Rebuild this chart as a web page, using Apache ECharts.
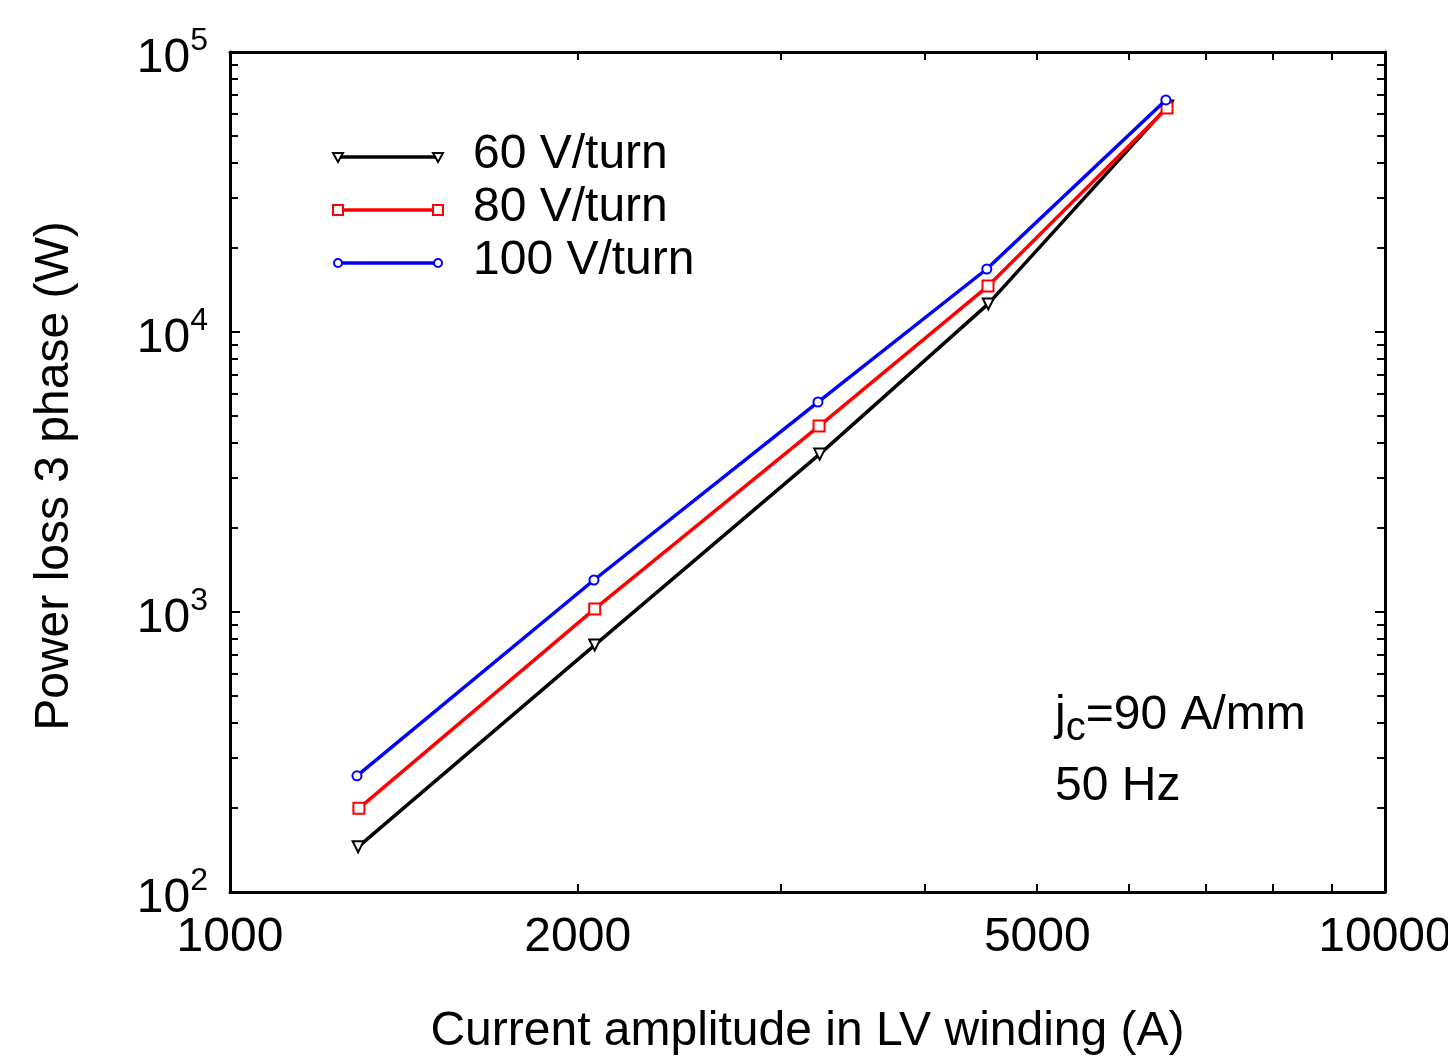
<!DOCTYPE html>
<html>
<head>
<meta charset="utf-8">
<script src="https://cdn.jsdelivr.net/npm/echarts@6/dist/echarts.min.js"></script>
<style>
  html, body { margin: 0; padding: 0; background: #fff; }
  #chart { width: 1448px; height: 1061px; }
</style>
</head>
<body>
<div id="chart"></div>
<script>
// values
const seriesNames = ['60 V/turn', '80 V/turn', '100 V/turn'];
const current60 = [1291, 2069, 3240, 4534, 6485];
const loss60 = [145, 762, 3664, 12600, 64100];
const current80 = [1293, 2069, 3236, 4532, 6476];
const loss80 = [199, 1026, 4613, 14590, 63100];
const current100 = [1288, 2066, 3229, 4521, 6461];
const loss100 = [260, 1301, 5623, 16788, 67400];

const xTickLabels = [1000, 2000, 5000, 10000];
const xMinorTicks = [2000, 3000, 4000, 5000, 6000, 7000, 8000, 9000];
const yMinorTicks = [200, 300, 400, 500, 600, 700, 800, 900,
  2000, 3000, 4000, 5000, 6000, 7000, 8000, 9000,
  20000, 30000, 40000, 50000, 60000, 70000, 80000, 90000];

const font = "'Liberation Sans', Arial, sans-serif";
const fs = 48;
const colors = ['#000000', '#ff0000', '#0000ff'];
const symbols = ['emptyTriangle', 'emptyRect', 'emptyCircle'];
const symbolSizes = [11, 11, 9];
const symbolRotates = [180, 0, 0];

function pairs(xs, ys) {
  return xs.map((x, i) => [x, ys[i]]);
}
const allData = [pairs(current60, loss60), pairs(current80, loss80), pairs(current100, loss100)];

const axisLine = {lineStyle: {color: '#000', width: 3}};
const chart = echarts.init(document.getElementById('chart'));

chart.setOption({
  backgroundColor: '#fff',
  animation: false,
  grid: {left: 230, right: 63, top: 52, bottom: 169},
  xAxis: [
    {
      type: 'log', min: 1000, max: 10000, position: 'bottom',
      axisLine: axisLine,
      axisTick: {show: false},
      axisLabel: {show: false},
      splitLine: {show: false}
    },
    {
      type: 'log', min: 1000, max: 10000, position: 'top',
      axisLine: axisLine,
      axisTick: {show: false},
      axisLabel: {show: false},
      splitLine: {show: false}
    }
  ],
  yAxis: [
    {
      type: 'log', min: 100, max: 100000, position: 'left',
      axisLine: axisLine,
      axisTick: {inside: true, length: 10, lineStyle: {width: 2, color: '#000'}},
      axisLabel: {
        margin: 22,
        formatter: function (v) {
          return '{b|10}{s|' + Math.round(Math.log10(v)) + '}';
        },
        rich: {
          b: {fontFamily: font, fontSize: fs, color: '#000', padding: [14, 0, 0, 0]},
          s: {fontFamily: font, fontSize: 32, color: '#000', padding: [0, 0, 22, 0]}
        }
      },
      splitLine: {show: false}
    },
    {
      type: 'log', min: 100, max: 100000, position: 'right',
      axisLine: axisLine,
      axisTick: {inside: true, length: 10, lineStyle: {width: 2, color: '#000'}},
      axisLabel: {show: false},
      splitLine: {show: false}
    }
  ],
  series: allData.map((d, i) => ({
    name: seriesNames[i],
    type: 'line',
    data: d,
    symbol: symbols[i],
    symbolSize: symbolSizes[i],
    symbolRotate: symbolRotates[i],
    lineStyle: {color: colors[i], width: 3.5},
    itemStyle: {color: colors[i], borderWidth: 2},
    z: 2 + i
  }))
});

// ticks, x labels, legend and notes placed through the axes' own scale
function decorate() {
  const g = [];
  const xPix = v => chart.convertToPixel({xAxisIndex: 0}, v);
  const yPix = v => chart.convertToPixel({yAxisIndex: 0}, v);
  const left = xPix(1000), right = xPix(10000);
  const bottom = yPix(100), top = yPix(100000);
  const tickStyle = {stroke: '#000', lineWidth: 2};
  const tl = 8;

  xMinorTicks.forEach(v => {
    const x = Math.round(xPix(v));
    g.push({type: 'line', shape: {x1: x, y1: bottom, x2: x, y2: bottom - tl}, style: tickStyle, silent: true});
    g.push({type: 'line', shape: {x1: x, y1: top, x2: x, y2: top + tl}, style: tickStyle, silent: true});
  });
  yMinorTicks.forEach(v => {
    const y = Math.round(yPix(v));
    g.push({type: 'line', shape: {x1: left, y1: y, x2: left + tl, y2: y}, style: tickStyle, silent: true});
    g.push({type: 'line', shape: {x1: right, y1: y, x2: right - tl, y2: y}, style: tickStyle, silent: true});
  });

  xTickLabels.forEach(v => {
    g.push({
      type: 'text', x: xPix(v), y: bottom + 22, silent: true,
      style: {text: String(v), font: fs + 'px ' + font, fill: '#000', align: 'center', verticalAlign: 'top'}
    });
  });

  // axis names
  g.push({
    type: 'text', x: (left + right) / 2, y: 1032, silent: true,
    style: {text: 'Current amplitude in LV winding (A)', font: fs + 'px ' + font, fill: '#000', align: 'center', verticalAlign: 'middle'}
  });
  g.push({
    type: 'text', x: 55, y: 476, rotation: Math.PI / 2, silent: true,
    style: {text: 'Power loss 3 phase (W)', font: fs + 'px ' + font, fill: '#000', align: 'center', verticalAlign: 'middle'}
  });

  // legend with a marker at each end of the sample line
  const legendY = [157, 210, 263];
  seriesNames.forEach((name, i) => {
    const y = legendY[i];
    g.push({type: 'line', shape: {x1: 338, y1: y, x2: 438, y2: y}, style: {stroke: colors[i], lineWidth: 3.5}, silent: true});
    [338, 438].forEach(x => {
      if (i === 0) {
        g.push({type: 'polygon', shape: {points: [[x - 5, y - 4], [x + 5, y - 4], [x, y + 5]]},
          style: {fill: '#fff', stroke: colors[i], lineWidth: 2}, silent: true});
      } else if (i === 1) {
        g.push({type: 'rect', shape: {x: x - 5, y: y - 5, width: 10, height: 10},
          style: {fill: '#fff', stroke: colors[i], lineWidth: 2}, silent: true});
      } else {
        g.push({type: 'circle', shape: {cx: x, cy: y, r: 4},
          style: {fill: '#fff', stroke: colors[i], lineWidth: 2}, silent: true});
      }
    });
    g.push({
      type: 'text', x: 473, y: y - 2, silent: true,
      style: {text: name, font: fs + 'px ' + font, fill: '#000', align: 'left', verticalAlign: 'middle'}
    });
  });

  // note
  g.push({
    type: 'text', x: 1055, y: 716, silent: true,
    style: {
      text: '{t|j}{c|c}{t|=90 A/mm}',
      align: 'left', verticalAlign: 'middle',
      rich: {
        t: {fontFamily: font, fontSize: fs, fill: '#000'},
        c: {fontFamily: font, fontSize: 40, fill: '#000', padding: [26, 0, 0, 0]}
      }
    }
  });
  g.push({
    type: 'text', x: 1055, y: 787, silent: true,
    style: {text: '50 Hz', font: fs + 'px ' + font, fill: '#000', align: 'left', verticalAlign: 'middle'}
  });

  chart.setOption({graphic: g});
}
decorate();
</script>
</body>
</html>
